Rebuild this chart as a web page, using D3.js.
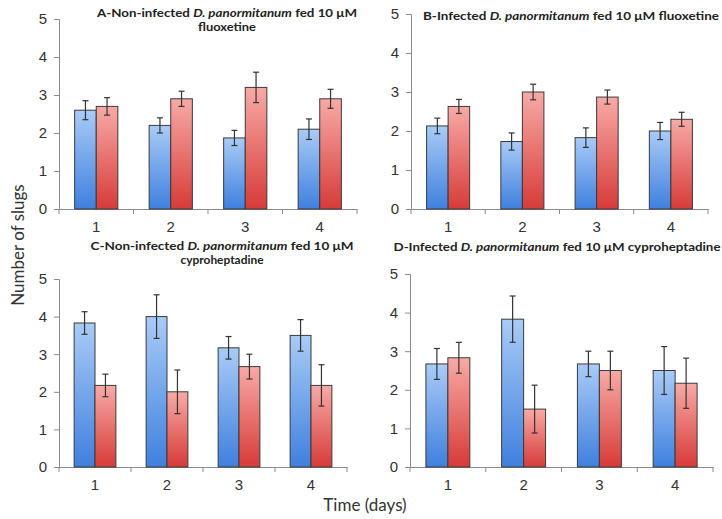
<!DOCTYPE html>
<html lang="en">
<head>
    <meta charset="UTF-8">
    <title>Number of slugs</title>
    <script src="https://d3js.org/d3.v7.min.js"></script>
    <style>
        body { margin: 0; background: #fff; }
        svg { font-family: Lato, "Open Sans", sans-serif; }
    </style>
</head>
<body>
    <svg id="graph" width="722" height="519"></svg>
    <script>
        // data
        const days = ["1", "2", "3", "4"];
        const series = ["blue", "red"];

        const meanA = [[2.6, 2.2, 1.87, 2.1], [2.7, 2.9, 3.2, 2.9]];
        const errA = [[0.25, 0.2, 0.2, 0.27], [0.23, 0.2, 0.4, 0.25]];
        const meanB = [[2.13, 1.73, 1.83, 2.0], [2.63, 3.0, 2.87, 2.3]];
        const errB = [[0.2, 0.22, 0.25, 0.22], [0.18, 0.2, 0.18, 0.18]];
        const meanC = [[3.83, 4.0, 3.17, 3.5], [2.17, 2.0, 2.67, 2.17]];
        const errC = [[0.3, 0.58, 0.3, 0.42], [0.3, 0.58, 0.33, 0.55]];
        const meanD = [[2.67, 3.83, 2.67, 2.5], [2.83, 1.5, 2.5, 2.17]];
        const errD = [[0.4, 0.6, 0.33, 0.62], [0.4, 0.62, 0.5, 0.65]];

        const yTicks = [0, 1, 2, 3, 4, 5];

        const svg = d3.select("#graph");

        // gradients for the bars
        const defs = svg.append("defs");
        const grads = { blue: ["#a9cbf7", "#3f80de"], red: ["#f8aaa6", "#d63b38"] };
        Object.entries(grads).forEach(([k, c]) => {
            const g = defs.append("linearGradient").attr("id", "grad-" + k)
                .attr("x1", 0).attr("y1", 0).attr("x2", 0).attr("y2", 1);
            g.append("stop").attr("offset", "0%").attr("stop-color", c[0]);
            g.append("stop").attr("offset", "100%").attr("stop-color", c[1]);
        });

        const panels = [
            { mean: meanA, err: errA, x0: 59, x1: 357, yTop: 19, yBot: 209,
              title: [["A-Non-infected ", "D. panormitanum", " fed 10 μM"], ["fluoxetine"]], tx: 227, ty: 17, tw: [260, 58] },
            { mean: meanB, err: errB, x0: 411, x1: 708, yTop: 14, yBot: 209,
              title: [["B-Infected ", "D. panormitanum", " fed 10 μM fluoxetine"]], tx: 571, ty: 20, tw: [296] },
            { mean: meanC, err: errC, x0: 59, x1: 347, yTop: 279, yBot: 467,
              title: [["C-Non-infected ", "D. panormitanum", " fed 10 μM"], ["cyproheptadine"]], tx: 222, ty: 250, tw: [263, 83] },
            { mean: meanD, err: errD, x0: 410, x1: 713, yTop: 274, yBot: 467,
              title: [["D-Infected ", "D. panormitanum", " fed 10 μM cyproheptadine"]], tx: 557, ty: 251, tw: [327] }
        ];

        panels.forEach(p => {
            const g = svg.append("g");

            const x = d3.scaleBand().domain(days).range([p.x0, p.x1])
                .paddingInner(0.42).paddingOuter(0.21);
            const xs = d3.scaleBand().domain(series).range([0, x.bandwidth()]);
            const y = d3.scaleLinear().domain([0, 5]).range([p.yBot, p.yTop]);

            // y axis
            const yAxis = g.append("g").attr("transform", `translate(${p.x0},0)`)
                .call(d3.axisLeft(y).tickValues(yTicks).tickFormat(d3.format("d")).tickSize(5).tickPadding(7));
            // x axis with ticks between categories
            const xAxis = g.append("g").attr("transform", `translate(0,${p.yBot})`)
                .call(d3.axisBottom(x).tickSize(0).tickPadding(12));
            const bounds = d3.range(days.length + 1).map(i => p.x0 + i * x.step());
            xAxis.selectAll(".sep").data(bounds).join("line").attr("class", "sep")
                .attr("x1", d => d).attr("x2", d => d).attr("y1", 0).attr("y2", 5)
                .attr("stroke", "#8a8a8a");
            [yAxis, xAxis].forEach(a => {
                a.select(".domain").attr("stroke", "#8a8a8a");
                a.selectAll(".tick line").attr("stroke", "#8a8a8a");
                a.selectAll(".tick text").attr("fill", "#333").style("font-size", "15px");
            });

            // bars
            series.forEach((s, si) => {
                const rows = days.map((d, i) => ({ day: d, v: p.mean[si][i], e: p.err[si][i] }));
                g.append("g").selectAll("rect").data(rows).join("rect")
                    .attr("x", d => x(d.day) + xs(s))
                    .attr("y", d => y(d.v))
                    .attr("width", xs.bandwidth())
                    .attr("height", d => y(0) - y(d.v))
                    .attr("fill", `url(#grad-${s})`)
                    .attr("stroke", "#3a3a3a").attr("stroke-width", 1);

                const eb = g.append("g").attr("stroke", "#333").attr("stroke-width", 1.2)
                    .selectAll("g").data(rows).join("g")
                    .attr("transform", d => `translate(${x(d.day) + xs(s) + xs.bandwidth() / 2},0)`);
                eb.append("line").attr("y1", d => y(d.v + d.e)).attr("y2", d => y(d.v - d.e));
                eb.append("line").attr("x1", -3).attr("x2", 3)
                    .attr("y1", d => y(d.v + d.e)).attr("y2", d => y(d.v + d.e));
                eb.append("line").attr("x1", -3).attr("x2", 3)
                    .attr("y1", d => y(d.v - d.e)).attr("y2", d => y(d.v - d.e));
            });

            // title, stretched to the widths seen in the figure
            p.title.forEach((line, li) => {
                const t = g.append("text").attr("x", p.tx).attr("y", p.ty + li * 14)
                    .attr("text-anchor", "middle").attr("fill", "#222")
                    .style("font-size", "11.5px").style("font-weight", "bold")
                    .attr("textLength", p.tw[li]).attr("lengthAdjust", "spacingAndGlyphs");
                line.forEach((part, pi) => {
                    t.append("tspan").text(part).style("font-style", pi === 1 ? "italic" : "normal");
                });
            });
        });

        svg.append("text").attr("transform", "translate(24,245) rotate(-90)")
            .attr("text-anchor", "middle").attr("fill", "#333")
            .style("font-size", "17px").text("Number of slugs");
        svg.append("text").attr("x", 365).attr("y", 511)
            .attr("text-anchor", "middle").attr("fill", "#333")
            .style("font-size", "17px").text("Time (days)");
    </script>
</body>
</html>
